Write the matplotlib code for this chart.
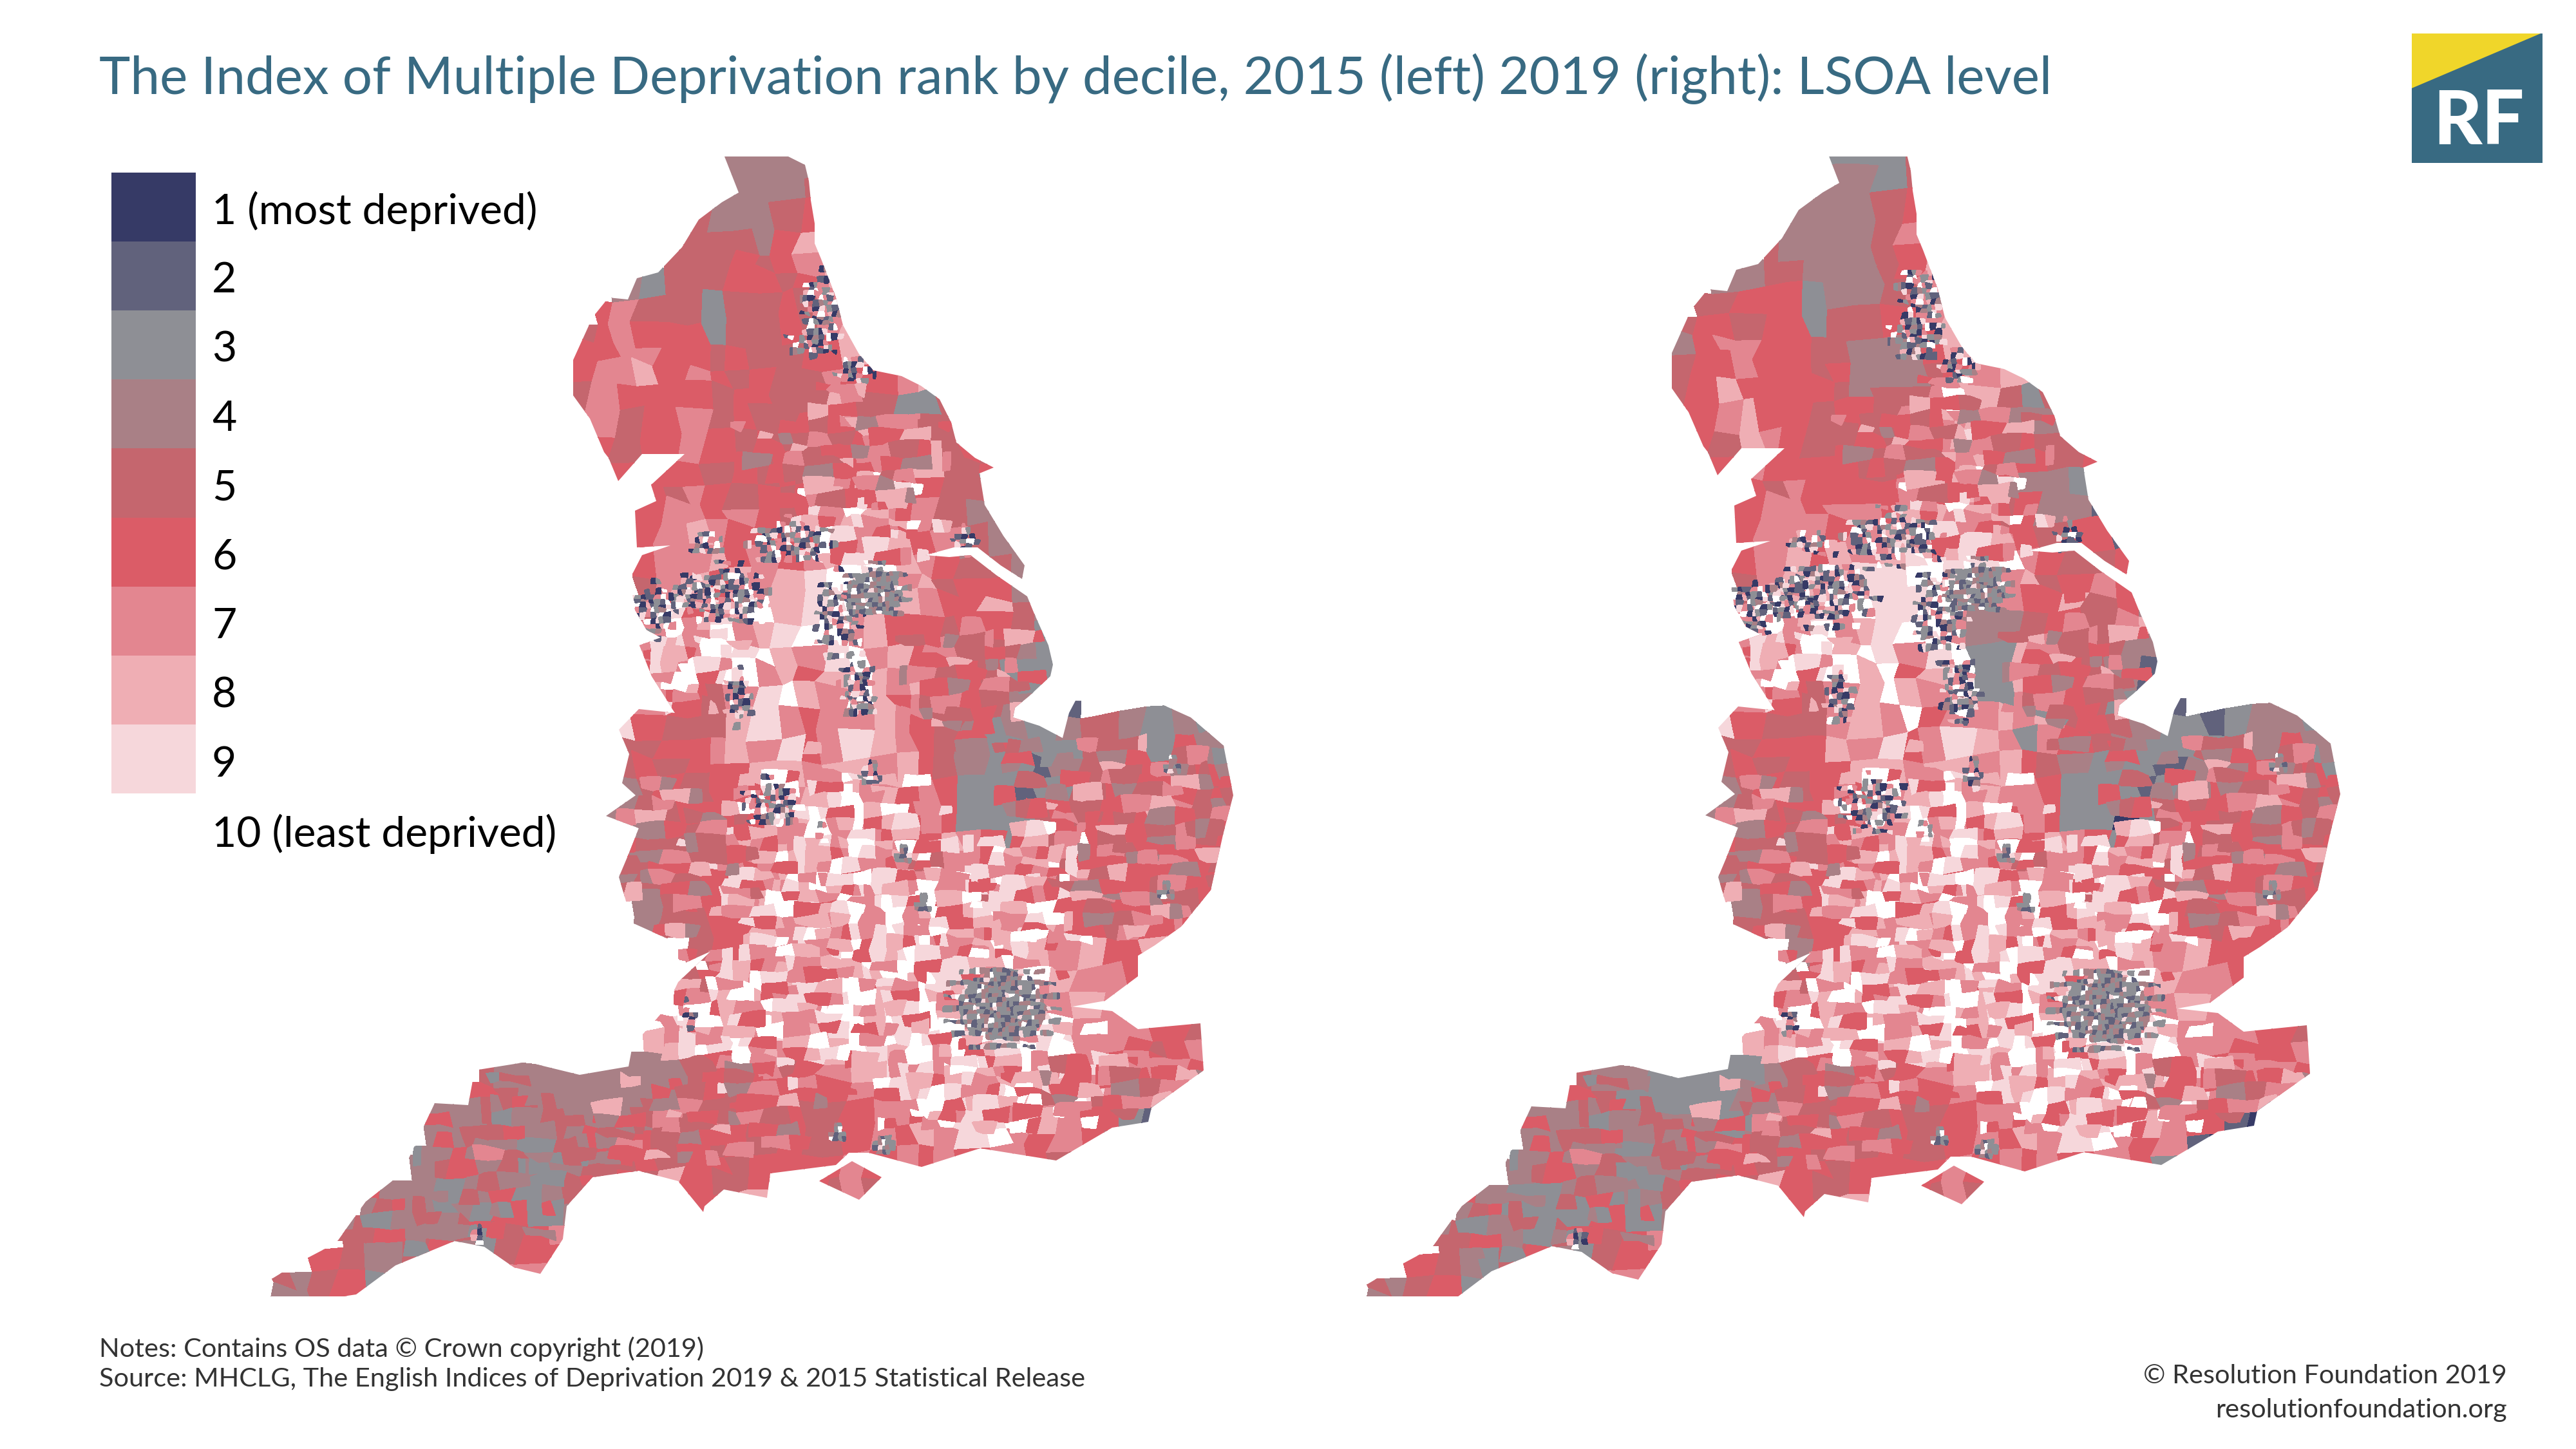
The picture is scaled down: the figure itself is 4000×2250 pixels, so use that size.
import numpy as np
import matplotlib
matplotlib.use("Agg")
import matplotlib.pyplot as plt
from matplotlib.colors import ListedColormap, BoundaryNorm
from matplotlib.patches import Rectangle, Polygon
from matplotlib.path import Path

FONT = "Lato"
BLUE = "#386a82"
YELLOW = "#f0d62a"

DECILE_LABELS = ["1 (most deprived)", "2", "3", "4", "5", "6", "7", "8", "9", "10 (least deprived)"]
DECILE_COLOURS = ["#363a66", "#61627c", "#8e8f95", "#a98086", "#c5666e",
                  "#db5c67", "#e38690", "#efaeb4", "#f6d7db", "#ffffff"]

# coastline, map units (clockwise from the cropped Northumberland edge)
COAST_X = [1125, 1224, 1250, 1256, 1259, 1265, 1265, 1275, 1298, 1309, 1334, 1356, 1400, 1430, 1459, 1477,
           1485, 1514, 1543, 1521, 1529, 1558, 1591, 1587, 1554, 1518, 1481, 1437, 1474, 1507, 1547, 1595,
           1606, 1628, 1635, 1631, 1598, 1576, 1573, 1614, 1650, 1660, 1670, 1798, 1849, 1900, 1915, 1900,
           1880, 1834, 1793, 1767, 1767, 1716, 1665, 1727, 1767, 1864, 1869, 1788, 1783, 1727, 1640, 1522,
           1431, 1349, 1318, 1298, 1196, 1191, 1124, 1094, 1092, 1053, 992, 920, 880, 874, 839, 798,
           752, 706, 614, 553, 533, 415, 420, 461, 522, 568, 624, 675, 727, 737, 818, 900,
           976, 982, 1033, 1053, 1104, 1053, 1053, 982, 961, 977, 992, 941, 987, 966, 977, 961,
           992, 1048, 1012, 993, 1026, 1004, 986, 953, 986, 978, 997, 1041, 989, 986, 1019, 1011,
           1063, 997, 960, 945, 938, 916, 890, 890, 920, 945, 975, 989, 1022, 1059, 1085, 1121, 1147]
COAST_Y = [243, 243, 256, 281, 311, 347, 378, 402, 462, 505, 550, 575, 584, 599, 620, 656,
           687, 711, 726, 735, 784, 832, 878, 899, 878, 850, 850, 862, 865, 862, 893, 926,
           953, 1002, 1032, 1050, 1081, 1099, 1114, 1127, 1146, 1107, 1088, 1091, 1114, 1158, 1235, 1292,
           1382, 1439, 1468, 1484, 1516, 1554, 1563, 1570, 1598, 1589, 1662, 1720, 1742, 1751, 1802, 1783,
           1812, 1790, 1790, 1809, 1822, 1860, 1847, 1873, 1882, 1834, 1818, 1828, 1873, 1924, 1978, 1968,
           1936, 1927, 1965, 2010, 2013, 2013, 1987, 1962, 1930, 1866, 1822, 1713, 1716, 1662, 1649, 1669,
           1656, 1624, 1567, 1525, 1477, 1500, 1465, 1433, 1362, 1324, 1286, 1267, 1235, 1216, 1171, 1133,
           1101, 1107, 1050, 1002, 990, 978, 947, 962, 947, 899, 862, 847, 850, 793, 778, 753,
           705, 705, 747, 711, 702, 650, 614, 559, 493, 462, 465, 432, 423, 384, 341, 314, 299]
WIGHT_X = [1272, 1323, 1369, 1334]
WIGHT_Y = [1834, 1803, 1828, 1863]
LUNDY_X = [643, 647, 646, 642]
LUNDY_Y = [1656, 1656, 1668, 1668]

# deciles on a coarse lattice, 0 stands for decile 10
DECILES_2015 = [
    "...................444445",
    "...................444458",
    "..................5444568",
    "..................5554689",
    ".................555656787",
    "...............43555665678",
    "..............675553556578",
    ".............56766635565789",
    ".............66776656556689",
    ".............6778676565576678",
    ".............57666656655875335",
    ".............475667565567887555",
    ".............5656676565566788565",
    "..............4666656565667885565",
    "...............665765656767665533",
    "...............567767656787675443",
    "................67876676779867544",
    "................677867678908765543",
    "................578687890097856643",
    "................567970899008766854",
    "...............67790789007866566534",
    "...............76870908790786765431",
    "...............67709078680878665332",
    "...............87665790870867765432",
    "...............9655589767787654343455434334",
    "...............5566787967987654333355434433",
    "...............5656668878878654332454565644",
    "...............4565676789086763323356656555",
    "..............44556667789076763335656687566",
    "...............4555667788076687635666657566",
    "...............5545667887067577667566656656",
    "...............4565678787700779766567650665",
    "................45567888707906587666566756",
    "................45566877890076789066576755",
    "..................566778908979089878668553",
    "..................57878908980909878776654",
    "..................7878709889009087787765",
    ".................788709890890098790777665",
    "................87990879809890890987765677",
    ".........544444444566756788978090879676767",
    "........66544444445656666778998908776676",
    ".......4456544445567656556776799087663276",
    ".......44433544566656565567687907676532",
    "......4444343555656656666767676776566",
    ".....44334333556586556565753",
    "....544343633456656688667565",
    "...554445656776",
    "..6544564356676",
    "5456344566776",
    "445665576666",
]
DECILES_2019 = [
    "...................433356",
    "...................444356",
    "..................4444568",
    "..................4444579",
    ".................544445689",
    "...............44554445678",
    "..............556663445578",
    ".............56656635566789",
    ".............46776655444689",
    ".............5667665644456788",
    ".............56866665455708535",
    ".............567866566578784445",
    ".............4658765565678975556",
    "..............5676666556778765565",
    "...............465766667687644336",
    "...............567767767876564423",
    "................67776787898765662",
    "................678687890890765566",
    "................578889900907856763",
    "................567970990087668564",
    "...............67790789007445665785",
    "...............76870809790338765442",
    "...............67709080680338765421",
    "...............87665780870337765322",
    "...............9655578706778735654332344344",
    "...............5566687967987376543333544343",
    "...............5656668878878654333245465633",
    "...............4565676789087763332346656555",
    "..............44556667789076763313566687566",
    "...............4555667788076687635665657566",
    "...............5556667887067577666566656656",
    "...............4567678787700779766566650665",
    "................45567888707906587665466756",
    "................55566877890076789066566755",
    "..................466778908979089878666553",
    "..................57878708980909878776654",
    "..................7878709889009087787765",
    ".................788809890890098790777665",
    "................87890879809890890987766677",
    ".........544333334566756788978090879676767",
    "........66533333445656666778998908776676",
    ".......4456544433567656556776799087662176",
    ".......44443544566656565567687907672132",
    "......4444334555656656666767676776366",
    ".....43333343556586556565753",
    "....543333633456656688667565",
    "...554335656776",
    "..6543564356676",
    "5456334566776",
    "445665576666",
]

# small LSOAs in towns and in the shires, "." leaves the lattice showing
MIX_DARK = [
    "1320.1439.247",
    "2319.7.203.18",
    "034.92170.72.",
    "2.0137.82319.",
    "19320.3.142.0",
    ".1807.397317.",
    "3421.0.271.93",
    "139.243.0821.",
    "02.719.322.30",
    ".13.70.8149.2",
    "270.1423.9312",
]
MIX_GREY = [
    "3243340232934",
    "2434233334423",
    "4332293320343",
    "3233433304433",
    "3290342234324",
    "2433302329433",
    "4323244433320",
    "3342333092349",
    "4332324433232",
    "4223393304423",
    "3324234233403",
]
MIX_PALE = [
    "0078.668990..",
    "007799.688.77",
    ".97.008876.79",
    "886..977880.9",
    "8.099776..669",
    "70066.9988.07",
    "0086.99667.98",
    ".7709988.006.",
    "966.87779900.",
    "88.0077.6687.",
    "0966.8800.779",
]
MIX_WARM = [
    "556.4477.5566",
    "7755.66688.4.",
    ".66.4775566.8",
    "5558..6644.77",
    "4466..5776655",
    "88..774.5566.",
    "7556.6884.66.",
    ".445577..6688",
    "667788..544.5",
    ".55.4466.77.6",
    "886655..4557.",
]
MIX_MOOR = [
    "445.3344.5566",
    "5544.33.665.4",
    ".66.3445544.5",
    "443..6655.33.",
    "3355.4466.544",
    "66..445.3377.",
    "4456.5533.66.",
    ".334455..6644",
    "556644..433.5",
    ".44.3355.66.5",
    "775544..3446.",
]
JITTER = [-0.41, 0.22, -0.08, 0.37, -0.29, 0.11, 0.43, -0.18, 0.31,
          -0.36, 0.05, 0.26, -0.44, 0.16, -0.23, 0.39, -0.03]

PATCH_NAMES = ["tyne", "durham", "tees", "leeds", "burnley", "manchester", "wigan", "liverpool", "sheffield",
               "barnsley", "nottingham", "stoke", "derby", "birmingham", "coventry", "leicester", "hull",
               "london", "bristol", "southampton", "portsmouth", "plymouth", "northampton", "luton",
               "norwich", "ipswich", "midlands", "chilterns", "surrey", "cheshire", "yorkshire",
               "cambridge", "wiltshire", "norfolk", "suffolk", "marches", "kent", "devon", "cornwall",
               "dorset", "lincoln", "ryedale", "somerset", "fens"]
PATCH_X = [1275, 1262, 1327, 1225, 1099, 1130, 1065, 1011, 1298,
           1356, 1327, 1147, 1339, 1196, 1275, 1349, 1499,
           1553, 1063, 1298, 1369, 742, 1400, 1431,
           1818, 1808, 1270, 1440, 1530, 1060, 1350,
           1600, 1180, 1780, 1770, 1060, 1720, 800, 610,
           1000, 1500, 1300, 1130, 1590]
PATCH_Y = [465, 530, 578, 838, 844, 925, 925, 947, 953,
           917, 1068, 1081, 1088, 1248, 1290, 1203, 838,
           1560, 1579, 1758, 1777, 1914, 1327, 1401,
           1187, 1382, 1330, 1470, 1660, 1000, 800,
           1370, 1560, 1240, 1390, 1300, 1680, 1790, 1900,
           1740, 1050, 690, 1730, 1195]
PATCH_RX = [30, 32, 24, 52, 26, 52, 26, 28, 30,
            42, 22, 16, 16, 38, 10, 12, 16,
            68, 12, 12, 14, 12, 12, 12,
            12, 12, 170, 170, 170, 70, 90,
            80, 130, 120, 100, 90, 130, 130, 90,
            110, 90, 130, 110, 50]
PATCH_RY = [36, 24, 16, 30, 12, 40, 24, 34, 52,
            34, 40, 34, 22, 32, 9, 16, 18,
            54, 22, 10, 9, 9, 11, 10,
            10, 10, 130, 120, 90, 80, 70,
            90, 100, 110, 60, 110, 55, 90, 40,
            50, 90, 70, 60, 65]
PATCH_MIX = ["dark", "dark", "dark", "dark", "dark", "dark", "dark", "dark", "dark",
             "grey", "dark", "dark", "dark", "dark", "dark", "dark", "dark",
             "grey", "dark", "grey", "grey", "dark", "grey", "grey",
             "grey", "grey", "pale", "pale", "pale", "pale", "pale",
             "pale", "pale", "warm", "warm", "warm", "warm", "moor", "moor",
             "warm", "warm", "warm", "warm", "moor"]


def parse_rows(rows, n_cols):
    values = np.full((len(rows), n_cols), np.nan)
    for j, row in enumerate(rows):
        for i, ch in enumerate(row[:n_cols]):
            if ch != ".":
                values[j, i] = 10 if ch == "0" else int(ch)
    return values


def draw_cells(ax, x0, y0, cell, values, clip, cmap, norm):
    # irregular quads so that the lattice reads as small areas
    n_rows, n_cols = values.shape
    jj, ii = np.mgrid[0:n_rows + 1, 0:n_cols + 1]
    jit = np.array(JITTER)
    xs = x0 + cell * (ii + 0.75 * jit[(3 * ii + 7 * jj) % 17])
    ys = y0 + cell * (jj + 0.75 * jit[(5 * ii + 2 * jj + 4) % 17])
    mesh = ax.pcolormesh(xs, ys, np.ma.masked_invalid(values), cmap=cmap, norm=norm,
                         edgecolors="face", linewidth=0.15)
    mesh.set_clip_path(clip, ax.transData)


def draw_map(ax, rows, darker, cmap, norm):
    verts = []
    codes = []
    for xs, ys in [(COAST_X, COAST_Y), (WIGHT_X, WIGHT_Y), (LUNDY_X, LUNDY_Y)]:
        pts = list(zip(xs, ys))
        verts += pts + [pts[0]]
        codes += [Path.MOVETO] + [Path.LINETO] * (len(pts) - 1) + [Path.CLOSEPOLY]
    clip = Path(verts, codes)

    draw_cells(ax, 415, 243, 35.9, parse_rows(rows, 42), clip, cmap, norm)

    mixes = {"dark": MIX_DARK, "grey": MIX_GREY, "pale": MIX_PALE, "warm": MIX_WARM, "moor": MIX_MOOR}
    sizes = {"dark": 7.5, "grey": 6.5, "pale": 17.0, "warm": 19.0, "moor": 20.0}
    order = np.argsort([0 if m in ("pale", "warm", "moor") else 1 for m in PATCH_MIX], kind="stable")
    for k in order:
        mix = PATCH_MIX[k]
        tile = parse_rows(mixes[mix], 13)
        cell = sizes[mix]
        rx = PATCH_RX[k] * (darker if mix == "dark" else 1.0)
        ry = PATCH_RY[k] * (darker if mix == "dark" else 1.0)
        # ragged rim: a wider box, with the cells past the ellipse thinned out
        n_cols = int(2.8 * rx / cell) + 1
        n_rows = int(2.8 * ry / cell) + 1
        jj, ii = np.mgrid[0:n_rows, 0:n_cols]
        values = tile[(jj + k) % 11, (ii + 3 * k) % 13]
        dist = ((ii + 0.5 - n_cols / 2) * cell / rx) ** 2 + ((jj + 0.5 - n_rows / 2) * cell / ry) ** 2
        keep = (dist <= 1) | ((dist <= 1.9) & ((3 * ii + 5 * jj) % 3 == 0))
        values = np.where(keep, values, np.nan)
        draw_cells(ax, PATCH_X[k] - 1.4 * rx, PATCH_Y[k] - 1.4 * ry, cell, values, clip, cmap, norm)

    ax.set_axis_off()


def main():
    fig = plt.figure(figsize=(16, 9), dpi=250)
    cmap = ListedColormap(DECILE_COLOURS)
    norm = BoundaryNorm(np.arange(0.5, 11.5), 10)

    # left map and all furniture share one axes in image pixels
    ax = fig.add_axes([0, 0, 1, 1])
    ax.set_xlim(0, 4000)
    ax.set_ylim(2250, 0)
    draw_map(ax, DECILES_2015, 1.0, cmap, norm)

    # right map is the same geometry drawn slightly larger
    top, bottom = 243, 2013
    ax_r = fig.add_axes([0, 1 - bottom / 2250, 1, (bottom - top) / 2250])
    ax_r.set_xlim(-1673.4, 2276.4)
    ax_r.set_ylim(1350 + (bottom - 1350) / 1.0145, 1350 + (top - 1350) / 1.0145)
    ax_r.patch.set_alpha(0)
    draw_map(ax_r, DECILES_2019, 1.12, cmap, norm)

    ax.text(154, 122, "The Index of Multiple Deprivation rank by decile, 2015 (left) 2019 (right): LSOA level",
            family=FONT, fontsize=23.6, color=BLUE, va="center", ha="left")

    for i, label in enumerate(DECILE_LABELS):
        if i < 9:
            ax.add_patch(Rectangle((173, 268 + i * 107.1), 131, 107.1, facecolor=DECILE_COLOURS[i],
                                   edgecolor="none"))
        ax.text(329, 328 + i * 107.4, label, family=FONT, fontsize=19, color="black", va="center", ha="left")

    # logo
    ax.add_patch(Rectangle((3745, 52), 203, 201, facecolor=BLUE, edgecolor="none"))
    ax.add_patch(Polygon([(3745, 52), (3945, 52), (3745, 137)], facecolor=YELLOW, edgecolor="none"))
    ax.text(3849, 190, "RF", family=FONT, fontweight="black", fontsize=33.5, color="white",
            va="center", ha="center")

    ax.text(154, 2095, "Notes: Contains OS data © Crown copyright (2019)", family=FONT, fontsize=11.95,
            color="#333333", va="center")
    ax.text(154, 2141, "Source: MHCLG, The English Indices of Deprivation 2019 & 2015 Statistical Release",
            family=FONT, fontsize=11.95, color="#333333", va="center")
    ax.text(3893, 2137, "© Resolution Foundation 2019", family=FONT, fontsize=11.95, color="#333333",
            va="center", ha="right")
    ax.text(3893, 2189, "resolutionfoundation.org", family=FONT, fontsize=11.95, color="#333333",
            va="center", ha="right")

    fig.savefig("out.png", dpi=250, facecolor="white")
    plt.close(fig)


if __name__ == "__main__":
    main()
